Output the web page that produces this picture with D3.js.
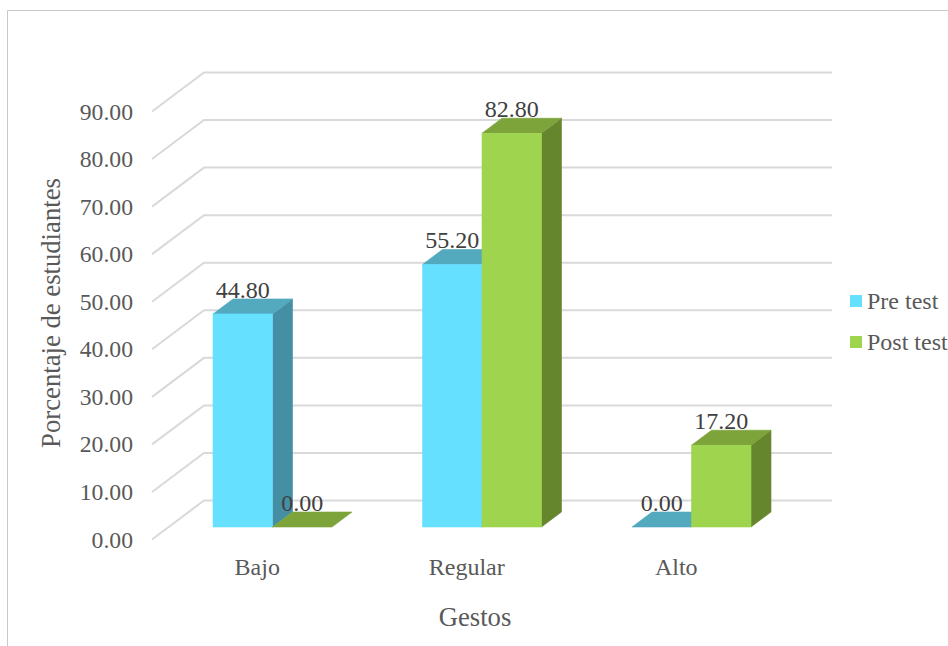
<!DOCTYPE html>
<html><head><meta charset="utf-8">
<script src="https://cdn.jsdelivr.net/npm/d3@7"></script>
<style>html,body{margin:0;padding:0;background:#fff}svg{display:block}text{font-family:"Liberation Serif",serif}</style>
</head><body><svg id="c" width="948" height="646"></svg>
<script>
const categories = ["Bajo", "Regular", "Alto"];
const seriesNames = ["Pre test", "Post test"];
const preTest = [44.80, 55.20, 0.00];
const postTest = [0.00, 82.80, 17.20];
const yTicks = [0, 10, 20, 30, 40, 50, 60, 70, 80, 90];
const xTitle = "Gestos";
const yTitle = "Porcentaje de estudiantes";
const colors = {
  "Pre test": {front: "#66e0ff", top: "#53aabf", side: "#458fa5"},
  "Post test": {front: "#9fd44e", top: "#7da33b", side: "#66862e"}
};
const svg = d3.select("#c");
const fmt = d3.format(".2f");
const series = [{name: seriesNames[0], values: preTest}, {name: seriesNames[1], values: postTest}];

// chart frame
svg.append("path").attr("d", "M7.5,646V10.5H948").attr("fill", "none").attr("stroke", "#c8c8c8").attr("stroke-width", 1);

const wallDx = 52, wallDy = -39;
const barDx = 20, barDy = -15;
const y = d3.scaleLinear().domain([0, 90]).range([539.5, 111.5]);
const x = d3.scaleBand().domain(categories).range([152, 780.5]);
const barW = 59.5;
const barBase = 527;
const barShift = 15.75;
const barUnit = y(0) - y(1);
const barLeft = (c, i) => x(c) + (x.bandwidth() - 2 * barW) / 2 + i * barW + barShift;

// gridlines + floor/side wall
const grid = svg.append("g").attr("fill", "none").attr("stroke", "#d9d9d9").attr("stroke-width", 2);
yTicks.forEach(t => {
  const yy = y(t);
  grid.append("path").attr("d", `M152,${yy}L${152 + wallDx},${yy + wallDy}H832`);
});

// y tick labels
svg.append("g").selectAll("text").data(yTicks).join("text")
  .attr("x", 133).attr("y", d => y(d) + 8)
  .attr("text-anchor", "end").attr("font-size", 23.7).attr("fill", "#595959")
  .text(d => fmt(d));

// bars
const bars = svg.append("g");
const labels = svg.append("g");
categories.forEach((c, k) => {
  series.forEach((s, i) => {
    const v = s.values[k], col = colors[s.name];
    const l = barLeft(c, i), r = l + barW, t = barBase - v * barUnit;
    const g = bars.append("g").attr("stroke-width", 0.6);
    if (v > 0) g.append("path").attr("d", `M${r},${barBase}V${t}l${barDx},${barDy}V${barBase + barDy}Z`)
      .attr("fill", col.side).attr("stroke", col.side);
    g.append("path").attr("d", `M${l},${t}H${r}l${barDx},${barDy}H${l + barDx}Z`)
      .attr("fill", col.top).attr("stroke", col.top);
    if (v > 0) g.append("rect").attr("x", l).attr("y", t).attr("width", barW).attr("height", barBase - t)
      .attr("fill", col.front).attr("stroke", col.front);
    labels.append("text").attr("x", l + barW / 2).attr("y", t - 16)
      .attr("text-anchor", "middle").attr("font-size", 24).attr("fill", "#404040").text(fmt(v));
  });
});

// category labels
svg.append("g").selectAll("text").data(categories).join("text")
  .attr("x", d => x(d) + 0.5 * x.bandwidth() + 0.5).attr("y", 575)
  .attr("text-anchor", "middle").attr("font-size", 24).attr("fill", "#595959").text(d => d);

// axis titles
svg.append("text").attr("x", 475).attr("y", 626).attr("text-anchor", "middle")
  .attr("font-size", 26.7).attr("fill", "#595959").text(xTitle);
svg.append("text").attr("transform", "translate(60,313) rotate(-90)").attr("text-anchor", "middle")
  .attr("font-size", 26.7).attr("fill", "#595959").text(yTitle);

// legend
const leg = svg.append("g").selectAll("g").data(series).join("g")
  .attr("transform", (d, i) => `translate(850,${295 + i * 41})`);
leg.append("rect").attr("width", 12).attr("height", 12).attr("fill", d => colors[d.name].front);
leg.append("text").attr("x", 17).attr("y", 14).attr("font-size", 24).attr("fill", "#595959").text(d => d.name);
</script></body></html>
